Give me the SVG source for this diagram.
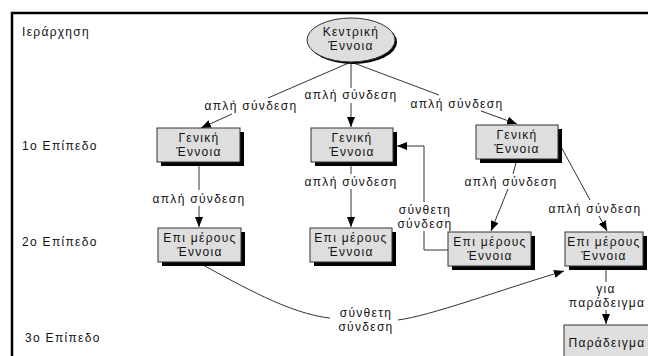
<svg xmlns="http://www.w3.org/2000/svg" width="648" height="356" viewBox="0 0 648 356">
<defs>
<marker id="arr" markerUnits="userSpaceOnUse" markerWidth="12" markerHeight="10" refX="10" refY="4" orient="auto"><path d="M0,0 L10,4 L0,8 z" fill="#000"/></marker>
</defs>
<style>
text{font-family:"Liberation Sans",Arial,sans-serif;font-size:12px;letter-spacing:1.3px;fill:#111}
.c{text-anchor:middle}
.box{fill:#dedede;stroke:#333;stroke-width:1}
.sh{fill:#000}
.ln{fill:none;stroke:#333;stroke-width:1}
.ar{marker-end:url(#arr)}
</style>
<rect width="648" height="356" fill="#fff"/>
<path d="M12,356 V13 H648" fill="none" stroke="#000" stroke-width="2.5"/>
<g id="levels">
<text x="22" y="36">Ιεράρχηση</text>
<text x="22" y="150">1ο Επίπεδο</text>
<text x="22" y="246">2ο Επίπεδο</text>
<text x="25" y="342">3ο Επίπεδο</text>
</g>
<g id="connectors">
<path class="ln" d="M351,62 L268,98"/>
<path class="ln ar" d="M232,114 L201,128"/>
<text class="c" x="251" y="110">απλή σύνδεση</text>
<path class="ln" d="M351,62 V88"/>
<path class="ln ar" d="M351,103 V127"/>
<text class="c" x="351" y="99">απλή σύνδεση</text>
<path class="ln" d="M351,62 L439,95"/>
<path class="ln ar" d="M481,111 L517,124"/>
<text class="c" x="457" y="108">απλή σύνδεση</text>
<path class="ln" d="M199,162 V190"/>
<path class="ln ar" d="M199,206 V227"/>
<text class="c" x="199" y="203">απλή σύνδεση</text>
<path class="ln" d="M351,162 V174"/>
<path class="ln ar" d="M351,189 V227"/>
<text class="c" x="351" y="186">απλή σύνδεση</text>
<path class="ln" d="M517,159 L513,174"/>
<path class="ln ar" d="M508,189 L491,231"/>
<text class="c" x="511" y="186">απλή σύνδεση</text>
<path class="ln" d="M559,143 L590,200"/>
<path class="ln ar" d="M599,216 L607,231"/>
<text class="c" x="595" y="213">απλή σύνδεση</text>
<path class="ln" d="M448,250 H424 V231"/>
<path class="ln ar" d="M424,202 V146 H397"/>
<text class="c" x="425" y="214">σύνθετη</text>
<text class="c" x="425" y="228">σύνδεση</text>
<path class="ln" d="M203,265 C240,285 290,314 330,318"/>
<path class="ln ar" d="M398,320 C430,316 500,290 564,271"/>
<text class="c" x="366" y="317">σύνθετη</text>
<text class="c" x="366" y="331">σύνδεση</text>
<path class="ln" d="M606,268 V282"/>
<path class="ln ar" d="M606,310 V324"/>
<text class="c" x="606" y="293">για</text>
<text class="c" x="607" y="307">παράδειγμα</text>
</g>
<g id="central">
<ellipse cx="353" cy="42" rx="44" ry="22" fill="#000"/>
<ellipse cx="351" cy="40" rx="44" ry="22" fill="#dedede" stroke="#333"/>
<text class="c" x="351" y="36">Κεντρική</text>
<text class="c" x="351" y="50">Έννοια</text>
</g>
<g id="g1">
<rect class="sh" x="161" y="132" width="83" height="34"/>
<rect class="box" x="157" y="128" width="83" height="34"/>
<text class="c" x="199" y="142">Γενική</text>
<text class="c" x="199" y="156">Έννοια</text>
</g>
<g id="g2">
<rect class="sh" x="315" y="132" width="82" height="34"/>
<rect class="box" x="311" y="128" width="82" height="34"/>
<text class="c" x="352" y="142">Γενική</text>
<text class="c" x="352" y="156">Έννοια</text>
</g>
<g id="g3">
<rect class="sh" x="480" y="129" width="82" height="34"/>
<rect class="box" x="476" y="125" width="82" height="34"/>
<text class="c" x="517" y="139">Γενική</text>
<text class="c" x="517" y="153">Έννοια</text>
</g>
<g id="m1">
<rect class="sh" x="162" y="232" width="83" height="34"/>
<rect class="box" x="158" y="228" width="83" height="34"/>
<text class="c" x="200" y="242">Επι μέρους</text>
<text class="c" x="200" y="256">Έννοια</text>
</g>
<g id="m2">
<rect class="sh" x="314" y="232" width="82" height="34"/>
<rect class="box" x="310" y="228" width="82" height="34"/>
<text class="c" x="351" y="242">Επι μέρους</text>
<text class="c" x="351" y="256">Έννοια</text>
</g>
<g id="m3">
<rect class="sh" x="452" y="236" width="83" height="34"/>
<rect class="box" x="448" y="232" width="83" height="34"/>
<text class="c" x="490" y="246">Επι μέρους</text>
<text class="c" x="490" y="260">Έννοια</text>
</g>
<g id="m4">
<rect class="sh" x="569" y="236" width="78" height="34"/>
<rect class="box" x="565" y="232" width="78" height="34"/>
<text class="c" x="604" y="246">Επι μέρους</text>
<text class="c" x="604" y="260">Έννοια</text>
</g>
<g id="example">
<rect class="box" x="564" y="325" width="90" height="40"/>
<text class="c" x="607" y="347">Παράδειγμα</text>
</g>
</svg>
